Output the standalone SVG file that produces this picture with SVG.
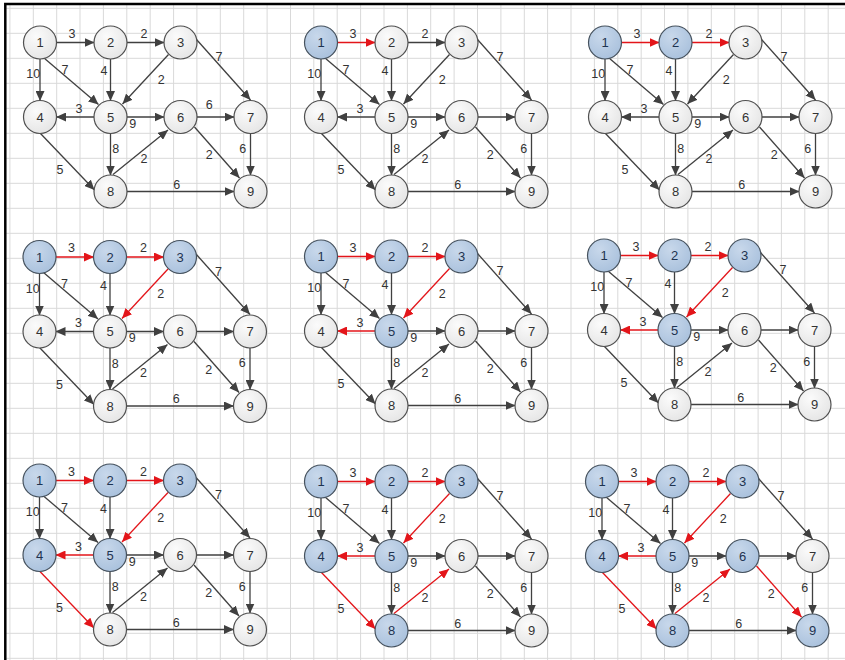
<svg xmlns="http://www.w3.org/2000/svg" width="845" height="660" viewBox="0 0 845 660">
<defs>
<style>
.grid{fill:none;stroke:#d9d9d9;stroke-width:1}
.frame{fill:none;stroke:#000;stroke-width:2.5}
.e{fill:none;stroke:#404040;stroke-width:1.3;marker-end:url(#ag)}
.e.r{stroke:#e3151a;marker-end:url(#ar)}
.el text{font-family:"Liberation Sans",Arial,sans-serif;font-size:12.5px;fill:#333;text-anchor:middle}
.node circle{fill:url(#gg);stroke:#505050;stroke-width:1.2}
.node text{font-family:"Liberation Sans",Arial,sans-serif;font-size:13px;fill:#333;text-anchor:middle}
.node.v circle{fill:url(#gb);stroke:#46525e}
.node.v text{fill:#1e3350}
</style>
<radialGradient id="gg" cx="0.38" cy="0.32" r="0.75">
<stop offset="0" stop-color="#fbfbfb"/><stop offset="1" stop-color="#e4e4e4"/>
</radialGradient>
<radialGradient id="gb" cx="0.38" cy="0.32" r="0.75">
<stop offset="0" stop-color="#c8d8eb"/><stop offset="1" stop-color="#a8c0dc"/>
</radialGradient>
<marker id="ag" markerUnits="userSpaceOnUse" markerWidth="10" markerHeight="9" refX="10" refY="4.5" orient="auto" viewBox="0 0 10 9"><path d="M0,0L10,4.5L0,9z" fill="#404040"/></marker>
<marker id="ar" markerUnits="userSpaceOnUse" markerWidth="10" markerHeight="9" refX="10" refY="4.5" orient="auto" viewBox="0 0 10 9"><path d="M0,0L10,4.5L0,9z" fill="#e3151a"/></marker>
</defs>
<rect width="845" height="660" fill="#fff"/>
<g id="grid">
<path class="grid" d="M9.9,4V660M33.3,4V660M56.7,4V660M80,4V660M103.4,4V660M126.8,4V660M150.2,4V660M173.6,4V660M196.9,4V660M220.3,4V660M243.7,4V660M267.1,4V660M290.5,4V660M313.8,4V660M337.2,4V660M360.6,4V660M384,4V660M407.4,4V660M430.7,4V660M454.1,4V660M477.5,4V660M500.9,4V660M524.3,4V660M547.6,4V660M571,4V660M594.4,4V660M617.8,4V660M641.2,4V660M664.5,4V660M687.9,4V660M711.3,4V660M734.7,4V660M758.1,4V660M781.4,4V660M804.8,4V660M828.2,4V660"/>
<path class="grid" d="M5,8.3H845M5,33.3H845M5,58.3H845M5,83.3H845M5,108.3H845M5,133.3H845M5,158.3H845M5,183.3H845M5,208.3H845M5,233.3H845M5,258.3H845M5,283.3H845M5,308.3H845M5,333.3H845M5,358.3H845M5,383.3H845M5,408.3H845M5,433.3H845M5,458.3H845M5,483.3H845M5,508.3H845M5,533.3H845M5,558.3H845M5,583.3H845M5,608.3H845M5,633.3H845M5,658.3H845"/>
<path class="frame" d="M5.3,660V4H845"/>
</g>

<g id="panel1" transform="translate(40,42.5)">
<g id="p1-connectors">
<path class="e" d="M16,0H54.5"/><path class="e" d="M86.5,0H124.5"/><path class="e" d="M0,16V58.5"/><path class="e" d="M4,15.5L58.5,62"/><path class="e" d="M70.5,16V58.5"/><path class="e" d="M128.5,12L82.5,61.5"/><path class="e" d="M156.5,-3L210.5,57.5"/><path class="e" d="M54.5,74.5H16"/><path class="e" d="M86.5,74.5H124.5"/><path class="e" d="M156.5,74.5H194.5"/><path class="e" d="M70.5,90.5V133"/><path class="e" d="M73,132L128,87.5"/><path class="e" d="M0,90.5L54.5,147.5"/><path class="e" d="M154.5,84.5L199.5,135.5"/><path class="e" d="M210.5,90.5V133"/><path class="e" d="M86.5,149H194.5"/>
</g>
<g id="p1-edge-labels" class="el">
<text x="32" y="-4.9">3</text><text x="104" y="-4.9">2</text><text x="-6.7" y="35.8">10</text><text x="25" y="31.1">7</text><text x="64" y="32.5">4</text><text x="121.3" y="41.1">2</text><text x="179" y="18.5">7</text><text x="39" y="70.1">3</text><text x="92.7" y="85.1">9</text><text x="169.3" y="66.8">6</text><text x="75.7" y="110.8">8</text><text x="104" y="120.1">2</text><text x="20" y="131.8">5</text><text x="169.3" y="116.8">2</text><text x="202.7" y="110.1">6</text><text x="136.7" y="146.1">6</text>
</g>
<g id="p1-n1" class="node"><circle r="16.5"/><text y="4.6">1</text></g>
<g id="p1-n2" class="node" transform="translate(70.5,0)"><circle r="16.5"/><text y="4.6">2</text></g>
<g id="p1-n3" class="node" transform="translate(140.5,0)"><circle r="16.5"/><text y="4.6">3</text></g>
<g id="p1-n4" class="node" transform="translate(0,74.5)"><circle r="16.5"/><text y="4.6">4</text></g>
<g id="p1-n5" class="node" transform="translate(70.5,74.5)"><circle r="16.5"/><text y="4.6">5</text></g>
<g id="p1-n6" class="node" transform="translate(140.5,74.5)"><circle r="16.5"/><text y="4.6">6</text></g>
<g id="p1-n7" class="node" transform="translate(210.5,74.5)"><circle r="16.5"/><text y="4.6">7</text></g>
<g id="p1-n8" class="node" transform="translate(70.5,149)"><circle r="16.5"/><text y="4.6">8</text></g>
<g id="p1-n9" class="node" transform="translate(210.5,149)"><circle r="16.5"/><text y="4.6">9</text></g>
</g>

<g id="panel2" transform="translate(321,42.5)">
<g id="p2-connectors">
<path class="e r" d="M16,0H54.5"/><path class="e" d="M86.5,0H124.5"/><path class="e" d="M0,16V58.5"/><path class="e" d="M4,15.5L58.5,62"/><path class="e" d="M70.5,16V58.5"/><path class="e" d="M128.5,12L82.5,61.5"/><path class="e" d="M156.5,-3L210.5,57.5"/><path class="e" d="M54.5,74.5H16"/><path class="e" d="M86.5,74.5H124.5"/><path class="e" d="M156.5,74.5H194.5"/><path class="e" d="M70.5,90.5V133"/><path class="e" d="M73,132L128,87.5"/><path class="e" d="M0,90.5L54.5,147.5"/><path class="e" d="M154.5,84.5L199.5,135.5"/><path class="e" d="M210.5,90.5V133"/><path class="e" d="M86.5,149H194.5"/>
</g>
<g id="p2-edge-labels" class="el">
<text x="32" y="-4.9">3</text><text x="104" y="-4.9">2</text><text x="-6.7" y="35.8">10</text><text x="25" y="31.1">7</text><text x="64" y="32.5">4</text><text x="121.3" y="41.1">2</text><text x="179" y="18.5">7</text><text x="39" y="70.1">3</text><text x="92.7" y="85.1">9</text><text x="75.7" y="110.8">8</text><text x="104" y="120.1">2</text><text x="20" y="131.8">5</text><text x="169.3" y="116.8">2</text><text x="202.7" y="110.1">6</text><text x="136.7" y="146.1">6</text>
</g>
<g id="p2-n1" class="node v"><circle r="16.5"/><text y="4.6">1</text></g>
<g id="p2-n2" class="node" transform="translate(70.5,0)"><circle r="16.5"/><text y="4.6">2</text></g>
<g id="p2-n3" class="node" transform="translate(140.5,0)"><circle r="16.5"/><text y="4.6">3</text></g>
<g id="p2-n4" class="node" transform="translate(0,74.5)"><circle r="16.5"/><text y="4.6">4</text></g>
<g id="p2-n5" class="node" transform="translate(70.5,74.5)"><circle r="16.5"/><text y="4.6">5</text></g>
<g id="p2-n6" class="node" transform="translate(140.5,74.5)"><circle r="16.5"/><text y="4.6">6</text></g>
<g id="p2-n7" class="node" transform="translate(210.5,74.5)"><circle r="16.5"/><text y="4.6">7</text></g>
<g id="p2-n8" class="node" transform="translate(70.5,149)"><circle r="16.5"/><text y="4.6">8</text></g>
<g id="p2-n9" class="node" transform="translate(210.5,149)"><circle r="16.5"/><text y="4.6">9</text></g>
</g>

<g id="panel3" transform="translate(605,42.5)">
<g id="p3-connectors">
<path class="e r" d="M16,0H54.5"/><path class="e r" d="M86.5,0H124.5"/><path class="e" d="M0,16V58.5"/><path class="e" d="M4,15.5L58.5,62"/><path class="e" d="M70.5,16V58.5"/><path class="e" d="M128.5,12L82.5,61.5"/><path class="e" d="M156.5,-3L210.5,57.5"/><path class="e" d="M54.5,74.5H16"/><path class="e" d="M86.5,74.5H124.5"/><path class="e" d="M156.5,74.5H194.5"/><path class="e" d="M70.5,90.5V133"/><path class="e" d="M73,132L128,87.5"/><path class="e" d="M0,90.5L54.5,147.5"/><path class="e" d="M154.5,84.5L199.5,135.5"/><path class="e" d="M210.5,90.5V133"/><path class="e" d="M86.5,149H194.5"/>
</g>
<g id="p3-edge-labels" class="el">
<text x="32" y="-4.9">3</text><text x="104" y="-4.9">2</text><text x="-6.7" y="35.8">10</text><text x="25" y="31.1">7</text><text x="64" y="32.5">4</text><text x="121.3" y="41.1">2</text><text x="179" y="18.5">7</text><text x="39" y="70.1">3</text><text x="92.7" y="85.1">9</text><text x="75.7" y="110.8">8</text><text x="104" y="120.1">2</text><text x="20" y="131.8">5</text><text x="169.3" y="116.8">2</text><text x="202.7" y="110.1">6</text><text x="136.7" y="146.1">6</text>
</g>
<g id="p3-n1" class="node v"><circle r="16.5"/><text y="4.6">1</text></g>
<g id="p3-n2" class="node v" transform="translate(70.5,0)"><circle r="16.5"/><text y="4.6">2</text></g>
<g id="p3-n3" class="node" transform="translate(140.5,0)"><circle r="16.5"/><text y="4.6">3</text></g>
<g id="p3-n4" class="node" transform="translate(0,74.5)"><circle r="16.5"/><text y="4.6">4</text></g>
<g id="p3-n5" class="node" transform="translate(70.5,74.5)"><circle r="16.5"/><text y="4.6">5</text></g>
<g id="p3-n6" class="node" transform="translate(140.5,74.5)"><circle r="16.5"/><text y="4.6">6</text></g>
<g id="p3-n7" class="node" transform="translate(210.5,74.5)"><circle r="16.5"/><text y="4.6">7</text></g>
<g id="p3-n8" class="node" transform="translate(70.5,149)"><circle r="16.5"/><text y="4.6">8</text></g>
<g id="p3-n9" class="node" transform="translate(210.5,149)"><circle r="16.5"/><text y="4.6">9</text></g>
</g>

<g id="panel4" transform="translate(39.5,257)">
<g id="p4-connectors">
<path class="e r" d="M16,0H54.5"/><path class="e r" d="M86.5,0H124.5"/><path class="e" d="M0,16V58.5"/><path class="e" d="M4,15.5L58.5,62"/><path class="e" d="M70.5,16V58.5"/><path class="e r" d="M128.5,12L82.5,61.5"/><path class="e" d="M156.5,-3L210.5,57.5"/><path class="e" d="M54.5,74.5H16"/><path class="e" d="M86.5,74.5H124.5"/><path class="e" d="M156.5,74.5H194.5"/><path class="e" d="M70.5,90.5V133"/><path class="e" d="M73,132L128,87.5"/><path class="e" d="M0,90.5L54.5,147.5"/><path class="e" d="M154.5,84.5L199.5,135.5"/><path class="e" d="M210.5,90.5V133"/><path class="e" d="M86.5,149H194.5"/>
</g>
<g id="p4-edge-labels" class="el">
<text x="32" y="-4.9">3</text><text x="104" y="-4.9">2</text><text x="-6.7" y="35.8">10</text><text x="25" y="31.1">7</text><text x="64" y="32.5">4</text><text x="121.3" y="41.1">2</text><text x="179" y="18.5">7</text><text x="39" y="70.1">3</text><text x="92.7" y="85.1">9</text><text x="75.7" y="110.8">8</text><text x="104" y="120.1">2</text><text x="20" y="131.8">5</text><text x="169.3" y="116.8">2</text><text x="202.7" y="110.1">6</text><text x="136.7" y="146.1">6</text>
</g>
<g id="p4-n1" class="node v"><circle r="16.5"/><text y="4.6">1</text></g>
<g id="p4-n2" class="node v" transform="translate(70.5,0)"><circle r="16.5"/><text y="4.6">2</text></g>
<g id="p4-n3" class="node v" transform="translate(140.5,0)"><circle r="16.5"/><text y="4.6">3</text></g>
<g id="p4-n4" class="node" transform="translate(0,74.5)"><circle r="16.5"/><text y="4.6">4</text></g>
<g id="p4-n5" class="node" transform="translate(70.5,74.5)"><circle r="16.5"/><text y="4.6">5</text></g>
<g id="p4-n6" class="node" transform="translate(140.5,74.5)"><circle r="16.5"/><text y="4.6">6</text></g>
<g id="p4-n7" class="node" transform="translate(210.5,74.5)"><circle r="16.5"/><text y="4.6">7</text></g>
<g id="p4-n8" class="node" transform="translate(70.5,149)"><circle r="16.5"/><text y="4.6">8</text></g>
<g id="p4-n9" class="node" transform="translate(210.5,149)"><circle r="16.5"/><text y="4.6">9</text></g>
</g>

<g id="panel5" transform="translate(321,256.5)">
<g id="p5-connectors">
<path class="e r" d="M16,0H54.5"/><path class="e r" d="M86.5,0H124.5"/><path class="e" d="M0,16V58.5"/><path class="e" d="M4,15.5L58.5,62"/><path class="e" d="M70.5,16V58.5"/><path class="e r" d="M128.5,12L82.5,61.5"/><path class="e" d="M156.5,-3L210.5,57.5"/><path class="e r" d="M54.5,74.5H16"/><path class="e" d="M86.5,74.5H124.5"/><path class="e" d="M156.5,74.5H194.5"/><path class="e" d="M70.5,90.5V133"/><path class="e" d="M73,132L128,87.5"/><path class="e" d="M0,90.5L54.5,147.5"/><path class="e" d="M154.5,84.5L199.5,135.5"/><path class="e" d="M210.5,90.5V133"/><path class="e" d="M86.5,149H194.5"/>
</g>
<g id="p5-edge-labels" class="el">
<text x="32" y="-4.9">3</text><text x="104" y="-4.9">2</text><text x="-6.7" y="35.8">10</text><text x="25" y="31.1">7</text><text x="64" y="32.5">4</text><text x="121.3" y="41.1">2</text><text x="179" y="18.5">7</text><text x="39" y="70.1">3</text><text x="92.7" y="85.1">9</text><text x="75.7" y="110.8">8</text><text x="104" y="120.1">2</text><text x="20" y="131.8">5</text><text x="169.3" y="116.8">2</text><text x="202.7" y="110.1">6</text><text x="136.7" y="146.1">6</text>
</g>
<g id="p5-n1" class="node v"><circle r="16.5"/><text y="4.6">1</text></g>
<g id="p5-n2" class="node v" transform="translate(70.5,0)"><circle r="16.5"/><text y="4.6">2</text></g>
<g id="p5-n3" class="node v" transform="translate(140.5,0)"><circle r="16.5"/><text y="4.6">3</text></g>
<g id="p5-n4" class="node" transform="translate(0,74.5)"><circle r="16.5"/><text y="4.6">4</text></g>
<g id="p5-n5" class="node v" transform="translate(70.5,74.5)"><circle r="16.5"/><text y="4.6">5</text></g>
<g id="p5-n6" class="node" transform="translate(140.5,74.5)"><circle r="16.5"/><text y="4.6">6</text></g>
<g id="p5-n7" class="node" transform="translate(210.5,74.5)"><circle r="16.5"/><text y="4.6">7</text></g>
<g id="p5-n8" class="node" transform="translate(70.5,149)"><circle r="16.5"/><text y="4.6">8</text></g>
<g id="p5-n9" class="node" transform="translate(210.5,149)"><circle r="16.5"/><text y="4.6">9</text></g>
</g>

<g id="panel6" transform="translate(604,255.5)">
<g id="p6-connectors">
<path class="e r" d="M16,0H54.5"/><path class="e r" d="M86.5,0H124.5"/><path class="e" d="M0,16V58.5"/><path class="e" d="M4,15.5L58.5,62"/><path class="e" d="M70.5,16V58.5"/><path class="e r" d="M128.5,12L82.5,61.5"/><path class="e" d="M156.5,-3L210.5,57.5"/><path class="e r" d="M54.5,74.5H16"/><path class="e" d="M86.5,74.5H124.5"/><path class="e" d="M156.5,74.5H194.5"/><path class="e" d="M70.5,90.5V133"/><path class="e" d="M73,132L128,87.5"/><path class="e" d="M0,90.5L54.5,147.5"/><path class="e" d="M154.5,84.5L199.5,135.5"/><path class="e" d="M210.5,90.5V133"/><path class="e" d="M86.5,149H194.5"/>
</g>
<g id="p6-edge-labels" class="el">
<text x="32" y="-4.9">3</text><text x="104" y="-4.9">2</text><text x="-6.7" y="35.8">10</text><text x="25" y="31.1">7</text><text x="64" y="32.5">4</text><text x="121.3" y="41.1">2</text><text x="179" y="18.5">7</text><text x="39" y="70.1">3</text><text x="92.7" y="85.1">9</text><text x="75.7" y="110.8">8</text><text x="104" y="120.1">2</text><text x="20" y="131.8">5</text><text x="169.3" y="116.8">2</text><text x="202.7" y="110.1">6</text><text x="136.7" y="146.1">6</text>
</g>
<g id="p6-n1" class="node v"><circle r="16.5"/><text y="4.6">1</text></g>
<g id="p6-n2" class="node v" transform="translate(70.5,0)"><circle r="16.5"/><text y="4.6">2</text></g>
<g id="p6-n3" class="node v" transform="translate(140.5,0)"><circle r="16.5"/><text y="4.6">3</text></g>
<g id="p6-n4" class="node" transform="translate(0,74.5)"><circle r="16.5"/><text y="4.6">4</text></g>
<g id="p6-n5" class="node v" transform="translate(70.5,74.5)"><circle r="16.5"/><text y="4.6">5</text></g>
<g id="p6-n6" class="node" transform="translate(140.5,74.5)"><circle r="16.5"/><text y="4.6">6</text></g>
<g id="p6-n7" class="node" transform="translate(210.5,74.5)"><circle r="16.5"/><text y="4.6">7</text></g>
<g id="p6-n8" class="node" transform="translate(70.5,149)"><circle r="16.5"/><text y="4.6">8</text></g>
<g id="p6-n9" class="node" transform="translate(210.5,149)"><circle r="16.5"/><text y="4.6">9</text></g>
</g>

<g id="panel7" transform="translate(39.5,480.5)">
<g id="p7-connectors">
<path class="e r" d="M16,0H54.5"/><path class="e r" d="M86.5,0H124.5"/><path class="e" d="M0,16V58.5"/><path class="e" d="M4,15.5L58.5,62"/><path class="e" d="M70.5,16V58.5"/><path class="e r" d="M128.5,12L82.5,61.5"/><path class="e" d="M156.5,-3L210.5,57.5"/><path class="e r" d="M54.5,74.5H16"/><path class="e" d="M86.5,74.5H124.5"/><path class="e" d="M156.5,74.5H194.5"/><path class="e" d="M70.5,90.5V133"/><path class="e" d="M73,132L128,87.5"/><path class="e r" d="M0,90.5L54.5,147.5"/><path class="e" d="M154.5,84.5L199.5,135.5"/><path class="e" d="M210.5,90.5V133"/><path class="e" d="M86.5,149H194.5"/>
</g>
<g id="p7-edge-labels" class="el">
<text x="32" y="-4.9">3</text><text x="104" y="-4.9">2</text><text x="-6.7" y="35.8">10</text><text x="25" y="31.1">7</text><text x="64" y="32.5">4</text><text x="121.3" y="41.1">2</text><text x="179" y="18.5">7</text><text x="39" y="70.1">3</text><text x="92.7" y="85.1">9</text><text x="75.7" y="110.8">8</text><text x="104" y="120.1">2</text><text x="20" y="131.8">5</text><text x="169.3" y="116.8">2</text><text x="202.7" y="110.1">6</text><text x="136.7" y="146.1">6</text>
</g>
<g id="p7-n1" class="node v"><circle r="16.5"/><text y="4.6">1</text></g>
<g id="p7-n2" class="node v" transform="translate(70.5,0)"><circle r="16.5"/><text y="4.6">2</text></g>
<g id="p7-n3" class="node v" transform="translate(140.5,0)"><circle r="16.5"/><text y="4.6">3</text></g>
<g id="p7-n4" class="node v" transform="translate(0,74.5)"><circle r="16.5"/><text y="4.6">4</text></g>
<g id="p7-n5" class="node v" transform="translate(70.5,74.5)"><circle r="16.5"/><text y="4.6">5</text></g>
<g id="p7-n6" class="node" transform="translate(140.5,74.5)"><circle r="16.5"/><text y="4.6">6</text></g>
<g id="p7-n7" class="node" transform="translate(210.5,74.5)"><circle r="16.5"/><text y="4.6">7</text></g>
<g id="p7-n8" class="node" transform="translate(70.5,149)"><circle r="16.5"/><text y="4.6">8</text></g>
<g id="p7-n9" class="node" transform="translate(210.5,149)"><circle r="16.5"/><text y="4.6">9</text></g>
</g>

<g id="panel8" transform="translate(321,481.5)">
<g id="p8-connectors">
<path class="e r" d="M16,0H54.5"/><path class="e r" d="M86.5,0H124.5"/><path class="e" d="M0,16V58.5"/><path class="e" d="M4,15.5L58.5,62"/><path class="e" d="M70.5,16V58.5"/><path class="e r" d="M128.5,12L82.5,61.5"/><path class="e" d="M156.5,-3L210.5,57.5"/><path class="e r" d="M54.5,74.5H16"/><path class="e" d="M86.5,74.5H124.5"/><path class="e" d="M156.5,74.5H194.5"/><path class="e" d="M70.5,90.5V133"/><path class="e r" d="M73,132L128,87.5"/><path class="e r" d="M0,90.5L54.5,147.5"/><path class="e" d="M154.5,84.5L199.5,135.5"/><path class="e" d="M210.5,90.5V133"/><path class="e" d="M86.5,149H194.5"/>
</g>
<g id="p8-edge-labels" class="el">
<text x="32" y="-4.9">3</text><text x="104" y="-4.9">2</text><text x="-6.7" y="35.8">10</text><text x="25" y="31.1">7</text><text x="64" y="32.5">4</text><text x="121.3" y="41.1">2</text><text x="179" y="18.5">7</text><text x="39" y="70.1">3</text><text x="92.7" y="85.1">9</text><text x="75.7" y="110.8">8</text><text x="104" y="120.1">2</text><text x="20" y="131.8">5</text><text x="169.3" y="116.8">2</text><text x="202.7" y="110.1">6</text><text x="136.7" y="146.1">6</text>
</g>
<g id="p8-n1" class="node v"><circle r="16.5"/><text y="4.6">1</text></g>
<g id="p8-n2" class="node v" transform="translate(70.5,0)"><circle r="16.5"/><text y="4.6">2</text></g>
<g id="p8-n3" class="node v" transform="translate(140.5,0)"><circle r="16.5"/><text y="4.6">3</text></g>
<g id="p8-n4" class="node v" transform="translate(0,74.5)"><circle r="16.5"/><text y="4.6">4</text></g>
<g id="p8-n5" class="node v" transform="translate(70.5,74.5)"><circle r="16.5"/><text y="4.6">5</text></g>
<g id="p8-n6" class="node" transform="translate(140.5,74.5)"><circle r="16.5"/><text y="4.6">6</text></g>
<g id="p8-n7" class="node" transform="translate(210.5,74.5)"><circle r="16.5"/><text y="4.6">7</text></g>
<g id="p8-n8" class="node v" transform="translate(70.5,149)"><circle r="16.5"/><text y="4.6">8</text></g>
<g id="p8-n9" class="node" transform="translate(210.5,149)"><circle r="16.5"/><text y="4.6">9</text></g>
</g>

<g id="panel9" transform="translate(602,481.5)">
<g id="p9-connectors">
<path class="e r" d="M16,0H54.5"/><path class="e r" d="M86.5,0H124.5"/><path class="e" d="M0,16V58.5"/><path class="e" d="M4,15.5L58.5,62"/><path class="e" d="M70.5,16V58.5"/><path class="e r" d="M128.5,12L82.5,61.5"/><path class="e" d="M156.5,-3L210.5,57.5"/><path class="e r" d="M54.5,74.5H16"/><path class="e" d="M86.5,74.5H124.5"/><path class="e" d="M156.5,74.5H194.5"/><path class="e" d="M70.5,90.5V133"/><path class="e r" d="M73,132L128,87.5"/><path class="e r" d="M0,90.5L54.5,147.5"/><path class="e r" d="M154.5,84.5L199.5,135.5"/><path class="e" d="M210.5,90.5V133"/><path class="e" d="M86.5,149H194.5"/>
</g>
<g id="p9-edge-labels" class="el">
<text x="32" y="-4.9">3</text><text x="104" y="-4.9">2</text><text x="-6.7" y="35.8">10</text><text x="25" y="31.1">7</text><text x="64" y="32.5">4</text><text x="121.3" y="41.1">2</text><text x="179" y="18.5">7</text><text x="39" y="70.1">3</text><text x="92.7" y="85.1">9</text><text x="75.7" y="110.8">8</text><text x="104" y="120.1">2</text><text x="20" y="131.8">5</text><text x="169.3" y="116.8">2</text><text x="202.7" y="110.1">6</text><text x="136.7" y="146.1">6</text>
</g>
<g id="p9-n1" class="node v"><circle r="16.5"/><text y="4.6">1</text></g>
<g id="p9-n2" class="node v" transform="translate(70.5,0)"><circle r="16.5"/><text y="4.6">2</text></g>
<g id="p9-n3" class="node v" transform="translate(140.5,0)"><circle r="16.5"/><text y="4.6">3</text></g>
<g id="p9-n4" class="node v" transform="translate(0,74.5)"><circle r="16.5"/><text y="4.6">4</text></g>
<g id="p9-n5" class="node v" transform="translate(70.5,74.5)"><circle r="16.5"/><text y="4.6">5</text></g>
<g id="p9-n6" class="node v" transform="translate(140.5,74.5)"><circle r="16.5"/><text y="4.6">6</text></g>
<g id="p9-n7" class="node" transform="translate(210.5,74.5)"><circle r="16.5"/><text y="4.6">7</text></g>
<g id="p9-n8" class="node v" transform="translate(70.5,149)"><circle r="16.5"/><text y="4.6">8</text></g>
<g id="p9-n9" class="node v" transform="translate(210.5,149)"><circle r="16.5"/><text y="4.6">9</text></g>
</g>
</svg>
